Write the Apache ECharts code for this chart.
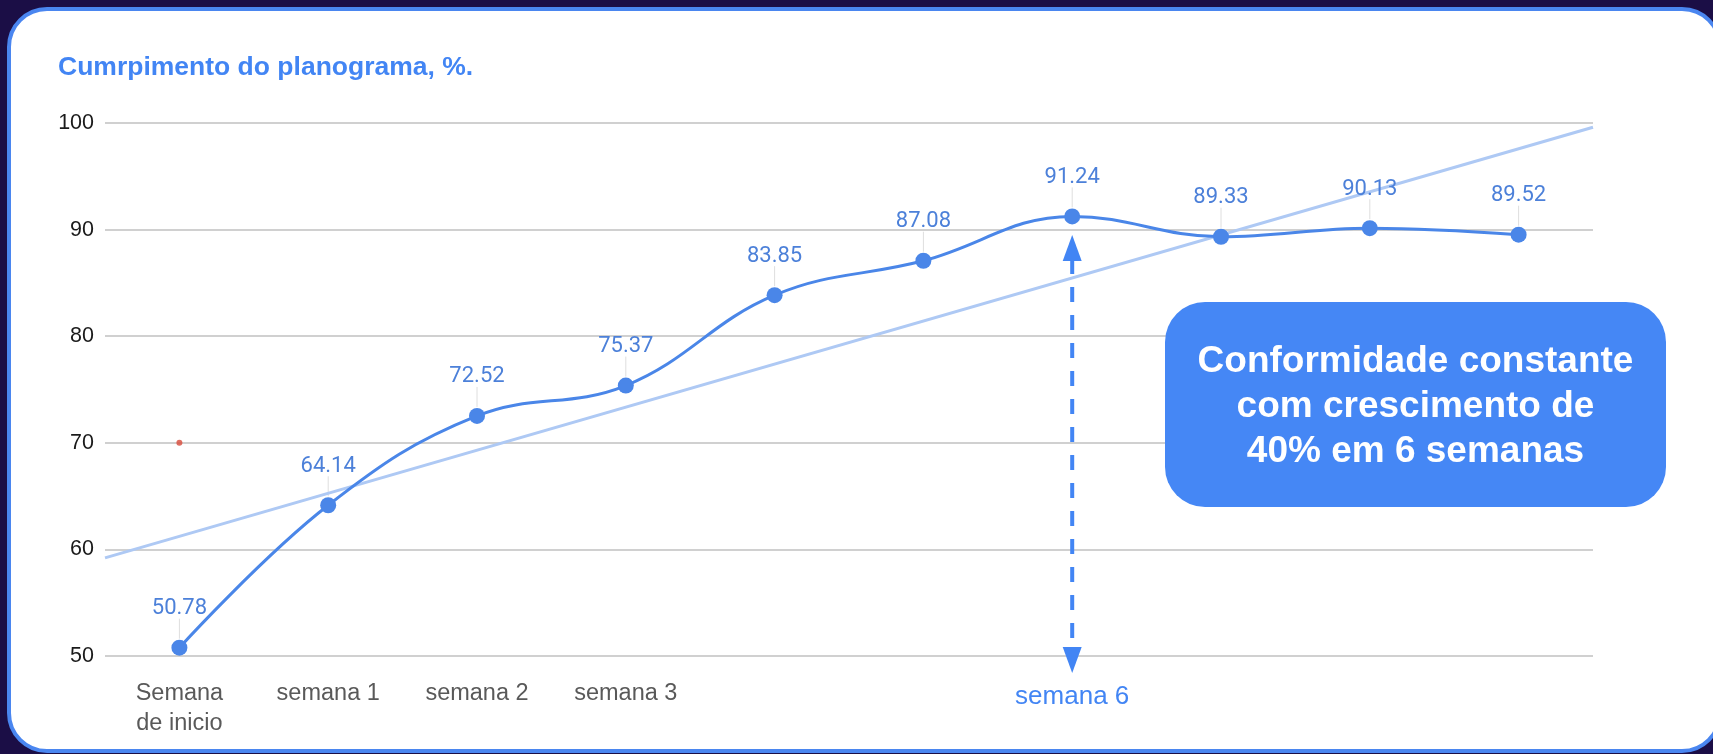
<!DOCTYPE html>
<html>
<head>
<meta charset="utf-8">
<script src="https://cdn.jsdelivr.net/npm/echarts@6/dist/echarts.min.js"></script>
<style>
  html, body { margin: 0; padding: 0; width: 1713px; height: 754px; overflow: hidden; background: #1b0e46; }
  #card {
    position: absolute; left: 7px; top: 7px; width: 1715px; height: 746px;
    box-sizing: border-box; border: 4px solid #4a86f0; border-radius: 40px; background: #fff;
  }
  #main { position: absolute; left: 0; top: 0; width: 1713px; height: 754px; }
</style>
</head>
<body>
<div id="card"></div>
<div id="main"></div>
<script>
// semanas (eixo x)
const categories = ['Semana de inicio', 'semana 1', 'semana 2', 'semana 3', 'semana 4',
  'semana 5', 'semana 6', 'semana 7', 'semana 8', 'semana 9'];
// rótulos que aparecem no eixo x ('' = escondido)
const tickLabels = ['Semana\nde inicio', 'semana 1', 'semana 2', 'semana 3', '', '', 'semana 6', '', '', ''];
const highlightIndex = 6;
// cumprimento do planograma, %
const compliance = [50.78, 64.14, 72.52, 75.37, 83.85, 87.08, 91.24, 89.33, 90.13, 89.52];
// linha de tendência: valor na borda esquerda e direita do gráfico
const trendEnds = [59.2, 99.6];
// ponto vermelho solto (categoria, valor)
const strayPoint = [0, 70];
// seta tracejada da semana 6: ponta de cima, ponta de baixo
const arrowSpan = [89.5, 48.4];
const yTicks = [50, 60, 70, 80, 90, 100];

const BLUE = '#4285f4';
const chart = echarts.init(document.getElementById('main'), null, { renderer: 'canvas' });

const option = {
  backgroundColor: 'transparent',
  animation: false,
  title: {
    text: 'Cumrpimento do planograma, %.',
    left: 58,
    top: 54,
    padding: 0,
    textStyle: {
      color: BLUE,
      fontFamily: 'Liberation Sans, Arial, sans-serif',
      fontWeight: 'bold',
      fontSize: 26.5
    }
  },
  grid: { left: 105, right: 120, top: 123, bottom: 98, containLabel: false },
  xAxis: [{
    type: 'category',
    data: categories,
    boundaryGap: true,
    axisLine: { show: false },
    axisTick: { show: false },
    axisLabel: {
      interval: 0,
      margin: 23,
      color: '#595959',
      fontFamily: 'Liberation Sans, Arial, sans-serif',
      fontSize: 23.5,
      lineHeight: 30,
      formatter: function (v, i) {
        if (i === highlightIndex) return '{hi|' + tickLabels[i] + '}';
        return tickLabels[i];
      },
      rich: {
        hi: {
          color: BLUE,
          fontFamily: 'Liberation Sans, Arial, sans-serif',
          fontSize: 26,
          lineHeight: 36
        }
      }
    }
  }, {
    type: 'value',
    min: -0.5,
    max: categories.length - 0.5,
    show: false
  }],
  yAxis: {
    type: 'value',
    min: yTicks[0],
    max: yTicks[yTicks.length - 1],
    interval: yTicks[1] - yTicks[0],
    axisLine: { show: false },
    axisTick: { show: false },
    axisLabel: {
      margin: 11,
      color: '#1a1a1a',
      fontFamily: 'Liberation Sans, Arial, sans-serif',
      fontSize: 21.5
    },
    splitLine: { lineStyle: { color: '#d0d0d0', width: 2 } }
  },
  series: [
    {
      // linha de tendência
      type: 'line',
      xAxisIndex: 1,
      data: [[-0.5, trendEnds[0]], [categories.length - 0.5, trendEnds[1]]],
      symbol: 'none',
      silent: true,
      z: 1,
      lineStyle: { color: '#aec9f4', width: 3 }
    },
    {
      // linhas finas entre rótulo e ponto
      type: 'custom',
      z: 1,
      silent: true,
      clip: false,
      data: compliance.map(function (v, i) { return [i, v]; }),
      renderItem: function (params, api) {
        const p = api.coord([api.value(0), api.value(1)]);
        return {
          type: 'line',
          shape: { x1: p[0], y1: p[1] - 9, x2: p[0], y2: p[1] - 29 },
          style: { stroke: '#dedede', lineWidth: 1 }
        };
      }
    },
    {
      type: 'line',
      name: 'Cumprimento',
      data: compliance,
      smooth: 0.4,
      symbol: 'circle',
      symbolSize: 16,
      z: 3,
      itemStyle: { color: '#4a86e8' },
      lineStyle: { color: '#4a86e8', width: 3 },
      label: {
        show: true,
        position: 'top',
        distance: 20,
        color: '#4c80d9',
        fontFamily: 'Roboto, sans-serif',
        fontSize: 22
      }
    },
    {
      type: 'scatter',
      data: [strayPoint],
      symbolSize: 6,
      z: 2,
      itemStyle: { color: '#d84a3a' }
    },
    {
      // seta tracejada da semana 6
      type: 'custom',
      z: 4,
      silent: true,
      clip: false,
      data: [[highlightIndex, arrowSpan[0], arrowSpan[1]]],
      renderItem: function (params, api) {
        const top = api.coord([api.value(0), api.value(1)]);
        const bot = api.coord([api.value(0), api.value(2)]);
        const x = top[0];
        const head = 26, hw = 9.5;
        return {
          type: 'group',
          children: [{
            type: 'line',
            shape: { x1: x, y1: top[1] + head - 2, x2: x, y2: bot[1] - head + 2 },
            style: { stroke: BLUE, lineWidth: 4, lineDash: [15, 13] }
          }, {
            type: 'polygon',
            shape: { points: [[x, top[1]], [x - hw, top[1] + head], [x + hw, top[1] + head]] },
            style: { fill: BLUE }
          }, {
            type: 'polygon',
            shape: { points: [[x, bot[1]], [x - hw, bot[1] - head], [x + hw, bot[1] - head]] },
            style: { fill: BLUE }
          }]
        };
      }
    }
  ],
  graphic: [{
    type: 'group',
    left: 1165,
    top: 302,
    z: 100,
    children: [{
      type: 'rect',
      z: 100,
      shape: { x: 0, y: 0, width: 501, height: 205, r: 40 },
      style: { fill: '#4587f5' }
    }, {
      type: 'text',
      z: 101,
      x: 250.5,
      y: 105,
      style: {
        text: 'Conformidade constante\ncom crescimento de\n40% em 6 semanas',
        fill: '#ffffff',
        font: 'bold 37px "Liberation Sans", Arial, sans-serif',
        lineHeight: 45,
        align: 'center',
        verticalAlign: 'middle'
      }
    }]
  }]
};

chart.setOption(option);
</script>
</body>
</html>
